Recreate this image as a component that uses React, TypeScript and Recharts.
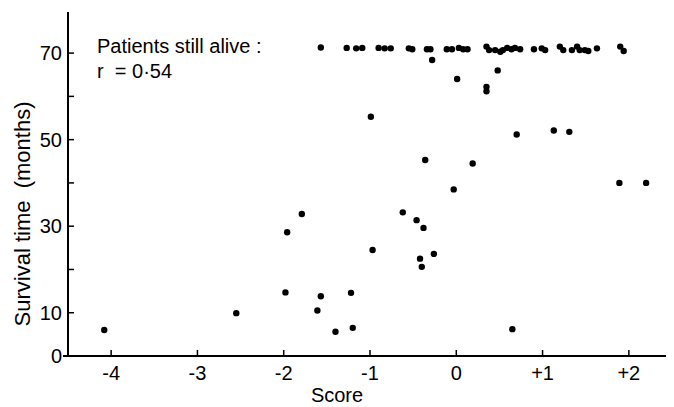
import { ScatterChart, Scatter, XAxis, YAxis } from 'recharts';

// patients who died: score vs survival time (months)
const deadScore = [
  -4.08, -2.55, -1.98, -1.96, -1.79, -1.61, -1.57, -1.4, -1.22, -1.2, -0.97, -0.99,
  -0.62, -0.46, -0.38, -0.42, -0.4, -0.26, -0.36, -0.03, 0.19, 0.65, 0.7, 1.13,
  1.31, 1.89, 2.2, -0.28, 0.01, 0.35, 0.35, 0.48
];
const deadMonths = [
  6.0, 9.9, 14.7, 28.6, 32.8, 10.5, 13.8, 5.6, 14.6, 6.5, 24.5, 55.3,
  33.2, 31.4, 29.6, 22.5, 20.6, 23.6, 45.3, 38.5, 44.5, 6.2, 51.2, 52.1,
  51.8, 40.0, 40.0, 68.4, 64.0, 62.2, 61.2, 66.0
];

// patients still alive (top row)
const aliveScore = [
  -1.57, -1.27, -1.16, -1.09, -0.9, -0.83, -0.76, -0.55, -0.51, -0.34, -0.3, -0.11,
  -0.05, 0.03, 0.08, 0.13, 0.35, 0.38, 0.45, 0.51, 0.54, 0.59, 0.64, 0.68,
  0.74, 0.9, 0.99, 1.03, 1.2, 1.24, 1.34, 1.4, 1.43, 1.49, 1.53, 1.63, 1.9, 1.94
];
const aliveMonths = [
  71.3, 71.2, 71.1, 71.2, 71.2, 71.1, 71.1, 71.1, 70.9, 70.9, 70.9, 70.9,
  70.9, 71.2, 70.9, 70.9, 71.5, 70.7, 70.7, 70.3, 70.7, 71.2, 70.9, 71.2,
  70.9, 70.9, 71.1, 70.7, 71.5, 70.7, 70.7, 71.5, 70.7, 70.7, 70.5, 71.1, 71.5, 70.5
];

const xTicks = [-4, -3, -2, -1, 0, 1, 2];
const yTicks = [0, 10, 20, 30, 40, 50, 60, 70];
const yLabelled = [0, 10, 30, 50, 70];

const font = '"Liberation Sans", Arial, sans-serif';

const dead = deadScore.map((s, i) => ({ score: s, months: deadMonths[i] }));
const alive = aliveScore.map((s, i) => ({ score: s, months: aliveMonths[i] }));

const Dot = (p: any) => <circle cx={p.cx} cy={p.cy} r={3.2} fill="#000" />;

function XTick({ x, y, payload }: any) {
  const v = payload.value;
  const label = v > 0 ? `+${v}` : v < 0 ? `-${Math.abs(v)}` : '0';
  return (
    <g>
      <line x1={x} y1={y} x2={x} y2={y - 6} stroke="#000" strokeWidth={1.5} />
      <text x={x} y={y + 24} textAnchor="middle" fontSize={20} fontFamily={font} fill="#000">
        {label}
      </text>
    </g>
  );
}

function YTick({ x, y, payload }: any) {
  const v = payload.value;
  return (
    <g>
      <line x1={x} y1={y} x2={x + 6} y2={y} stroke="#000" strokeWidth={1.5} />
      {yLabelled.includes(v) && (
        <text x={x - 6} y={y + 7} textAnchor="end" fontSize={20} fontFamily={font} fill="#000">
          {v}
        </text>
      )}
    </g>
  );
}

export default function App() {
  return (
    <div style={{ width: 666, height: 399, background: '#fff' }}>
      <ScatterChart width={666} height={399} margin={{ top: 4, right: 2, left: 0, bottom: 0 }}>
        <XAxis
          type="number"
          dataKey="score"
          domain={[-4.5, 2.5]}
          ticks={xTicks}
          tick={<XTick />}
          tickSize={0}
          tickMargin={0}
          height={51}
          axisLine={{ stroke: '#000', strokeWidth: 2 }}
          allowDataOverflow
        />
        <YAxis
          type="number"
          dataKey="months"
          domain={[0, 79.5]}
          ticks={yTicks}
          tick={<YTick />}
          tickSize={0}
          tickMargin={0}
          width={60}
          axisLine={{ stroke: '#000', strokeWidth: 2 }}
          allowDataOverflow
        />
        <Scatter data={dead} shape={<Dot />} isAnimationActive={false} />
        <Scatter data={alive} shape={<Dot />} isAnimationActive={false} />
        <line x1={55} y1={348} x2={61} y2={348} stroke="#000" strokeWidth={2} />
        <text x={89} y={45} fontSize={20} fontFamily={font} fill="#000">
          Patients still alive :
        </text>
        <text x={89} y={70} fontSize={20} fontFamily={font} fill="#000" style={{ whiteSpace: 'pre' }}>
          {'r  = 0·54'}
        </text>
        <text x={329} y={394} textAnchor="middle" fontSize={20} fontFamily={font} fill="#000">
          Score
        </text>
        <text
          x={14}
          y={206}
          transform="rotate(-90, 14, 206)"
          textAnchor="middle"
          dominantBaseline="central"
          fontSize={22}
          fontFamily={font}
          fill="#000"
          style={{ whiteSpace: 'pre' }}
        >
          {'Survival time  (months)'}
        </text>
      </ScatterChart>
    </div>
  );
}
